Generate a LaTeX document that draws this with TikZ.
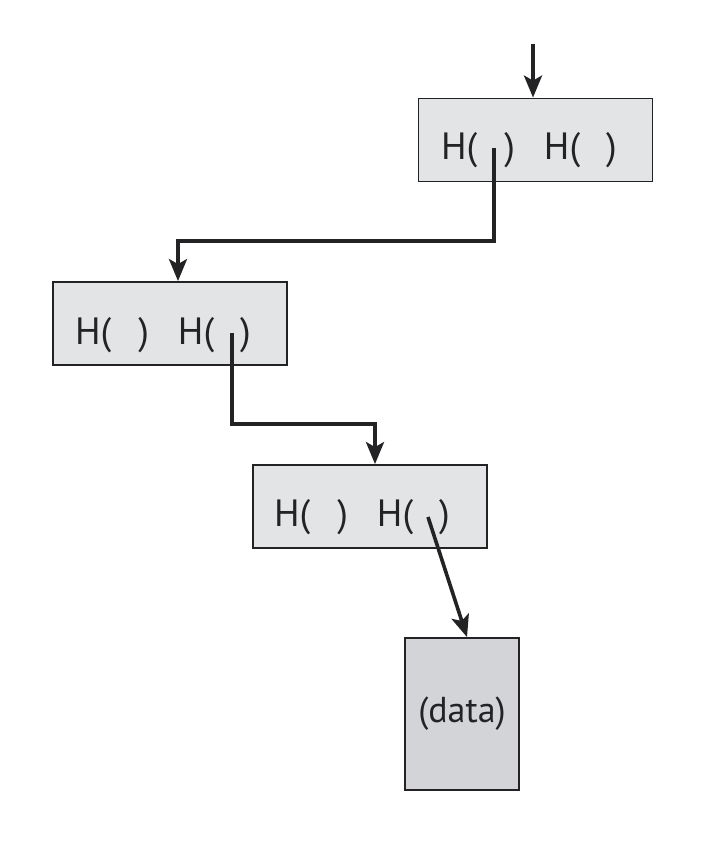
\documentclass[tikz,border=0pt]{standalone}
\usepackage{fontspec}
\setmainfont{PT Sans}
\usetikzlibrary{arrows.meta}
\definecolor{boxfill}{RGB}{227,228,230}
\definecolor{datafill}{RGB}{211,212,215}
\definecolor{ink}{RGB}{35,35,38}
\tikzset{
  hbox/.style={draw=ink, line width=1.8pt, fill=boxfill, minimum width=234pt, minimum height=83pt, inner sep=0pt},
  databox/.style={draw=ink, line width=1.8pt, fill=datafill, minimum width=114pt, minimum height=152pt, inner sep=0pt, text=ink, font=\fontsize{36}{38}\selectfont},
  htext/.style={anchor=base west, inner sep=0pt, text=ink, font=\fontsize{38}{40}\selectfont},
  conn/.style={draw=ink, line width=3.6pt, -{Stealth[length=22pt,width=18pt,inset=5pt]}},
}
\newcommand{\hpair}{H(\hspace{27pt})\hspace{29pt}H(\hspace{26pt})}
\begin{document}
\begin{tikzpicture}[x=1pt,y=1pt]
\useasboundingbox (0,0) rectangle (726,842);
% boxes
\node[hbox] (b1) at (535.5,702) {};
\node[hbox] (b2) at (170,518.5) {};
\node[hbox] (b3) at (370,335.5) {};
\node[databox] (b4) at (462,128) {(data)};
% texts
\node[htext] (t1) at (441,682) {\hpair};
\node[htext] (t2) at (75,497) {\hpair};
\node[htext] (t3) at (274,315) {\hpair};
% connector coordinates
\coordinate (in1) at (533,798);
\coordinate (s1) at (494,694);
\coordinate (s2) at (232,509);
\coordinate (s3) at (428,325);
\coordinate (k1) at (494,601);
\coordinate (k2) at (178,601);
\coordinate (k3) at (232,418);
\coordinate (k4) at (375,418);
% connectors
\draw[conn] (in1) -- (in1 |- b1.north);
\draw[conn] (s1) -- (k1) -- (k2) -- (k2 |- b2.north);
\draw[conn] (s2) -- (k3) -- (k4) -- (k4 |- b3.north);
\draw[conn] (s3) -- ([xshift=5pt]b4.north);
\end{tikzpicture}
\end{document}
